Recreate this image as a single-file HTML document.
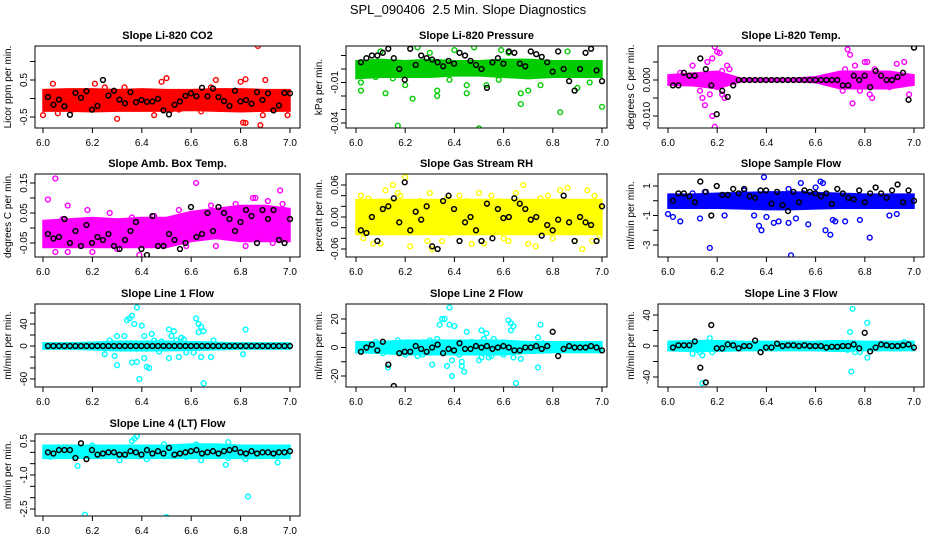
<!DOCTYPE html>
<html><head><meta charset="utf-8"><title>SPL_090406 2.5 Min. Slope Diagnostics</title>
<style>
html,body{margin:0;padding:0;background:#fff;}
svg{display:block;font-family:"Liberation Sans",Arial,sans-serif;}
</style></head>
<body>
<svg id="chart" width="936" height="540" viewBox="0 0 936 540" xmlns="http://www.w3.org/2000/svg">
<text x="468" y="14" text-anchor="middle" font-size="13">SPL_090406&#160; 2.5 Min. Slope Diagnostics</text>
</svg>
<script>
// ---- data ----
const xTicks = [6.0, 6.2, 6.4, 6.6, 6.8, 7.0];
const xTickLabels = ["6.0", "6.2", "6.4", "6.6", "6.8", "7.0"];
const bandX = [6.0, 6.1, 6.2, 6.3, 6.4, 6.5, 6.6, 6.7, 6.8, 6.9, 7.0];

const titles = ["Slope Li-820 CO2","Slope Li-820 Pressure","Slope Li-820 Temp.","Slope Amb. Box Temp.","Slope Gas Stream RH","Slope Sample Flow","Slope Line 1 Flow","Slope Line 2 Flow","Slope Line 3 Flow","Slope Line 4 (LT) Flow"];
const yTitles = ["Licor ppm per min.","kPa per min.","degrees C per min.","degrees C per min.","percent per min.","ml/min per min.","ml/min per min.","ml/min per min.","ml/min per min.","ml/min per min."];
const colors = ["#ff0000","#00cc00","#ff00ff","#ff00ff","#ffff00","#0000ff","#00ffff","#00ffff","#00ffff","#00ffff"];

const yTicks = [[-0.5,0,0.5,1.0],[-0.04,-0.03,-0.02,-0.01,0,0.01],[-0.01,-0.005,0,0.005],[-0.05,0,0.05,0.1,0.15],[-0.06,-0.04,-0.02,0,0.02,0.04,0.06],[-3,-2,-1,0,1],[-60,-40,-20,0,20,40,60],[-20,-10,0,10,20],[-40,-20,0,20,40],[-2.5,-2,-1.5,-1,-0.5,0,0.5]];
const yTickLabels = [["-0.5","","0.5",""],["-0.04","","","-0.01","",""],["-0.010","","0.000",""],["-0.05","","0.05","","0.15"],["-0.06","","","0.00","","","0.06"],["-3","","-1","","1"],["-60","","","0","","40",""],["-20","","0","","20"],["-40","","0","","40"],["-2.5","","","-1.0","","","0.5"]];

const band0Lo=[-0.3,-0.3,-0.32,-0.3,-0.3,-0.3,-0.28,-0.3,-0.32,-0.3,-0.3], band0Hi=[0.2,0.22,0.22,0.2,0.22,0.2,0.2,0.22,0.22,0.2,0.2];
const band1Lo=[-0.006,-0.005,-0.005,-0.005,-0.004,-0.004,-0.005,-0.006,-0.005,-0.005,-0.005], band1Hi=[0.005,0.006,0.005,0.006,0.005,0.005,0.006,0.006,0.005,0.005,0.005];
const band2Lo=[-0.001,-0.0012,-0.002,0,0,0,-0.0003,-0.002,-0.002,-0.002,-0.001], band2Hi=[0.001,0.0015,0.002,0,0,0,0.0005,0.002,0.002,0.002,0.001];
const band3Lo=[-0.06,-0.06,-0.06,-0.06,-0.06,-0.06,-0.04,-0.03,-0.04,-0.04,-0.04], band3Hi=[0.02,0.025,0.03,0.025,0.03,0.03,0.05,0.06,0.07,0.07,0.06];
const band4Lo=[-0.03,-0.03,-0.03,-0.03,-0.03,-0.03,-0.03,-0.03,-0.03,-0.03,-0.03], band4Hi=[0.03,0.03,0.03,0.03,0.03,0.03,0.03,0.03,0.03,0.03,0.03];
const band5Lo=[-0.4,-0.4,-0.4,-0.45,-0.5,-0.5,-0.45,-0.4,-0.4,-0.4,-0.4], band5Hi=[0.35,0.35,0.4,0.45,0.5,0.5,0.45,0.4,0.35,0.35,0.35];
const band6Lo=[-3,-3,-4,-6,-6,-6,-5,-4,-3,-3,-3], band6Hi=[3,3,4,6,6,6,5,4,3,3,3];
const band7Lo=[-2.5,-3,-4,-4,-4,-4,-4,-3,-2.5,-2.5,-2.5], band7Hi=[3,3,4,4,4,4,4,3,3,3,3];
const band8Lo=[-4,-5,-5,-4,-4,-4,-4,-5,-4,-4,-4], band8Hi=[4,5,5,4,4,4,4,5,4,4,4];
const band9Lo=[-0.2,-0.2,-0.2,-0.2,-0.2,-0.2,-0.2,-0.2,-0.2,-0.2,-0.2], band9Hi=[0.25,0.25,0.25,0.25,0.25,0.25,0.3,0.3,0.25,0.25,0.25];

const scat0X=[6.04,6.0,6.1,6.21,6.25,6.3,6.33,6.45,6.48,6.5,6.52,6.68,6.7,6.74,6.8,6.81,6.82,6.82,6.87,6.88,6.9,6.89,6.99,6.64,6.06,6.55,6.12,6.85];
const scat0Y=[0.4,-0.45,-0.1,0.4,0.3,-0.55,0.3,-0.45,0.45,0.55,-0.3,0.3,0.5,0.2,0.45,-0.65,-0.66,0.52,1.42,-0.72,0.5,-0.45,-0.45,-0.35,-0.4,-0.3,-0.3,-0.25];
const scat1X=[6.17,6.5,6.83,7.0,6.67,6.23,6.12,6.02,6.33,6.33,6.45,6.67,6.7,6.45,6.53,6.58,6.9,6.95,6.2,6.1,6.25,6.48,6.59,6.86,6.3,6.02,6.08,6.38,6.62,6.75,6.15,6.4];
const scat1Y=[-0.042,-0.044,-0.032,-0.028,-0.026,-0.022,-0.018,-0.016,-0.02,-0.016,-0.018,-0.018,-0.016,-0.012,-0.012,-0.008,-0.014,-0.01,-0.012,0.013,0.016,0.016,0.014,0.013,0.012,-0.01,-0.006,-0.008,0.012,-0.012,-0.007,0.014];
const scat2X=[6.19,6.2,6.21,6.16,6.18,6.19,6.18,6.15,6.14,6.22,6.23,6.24,6.25,6.1,6.2,6.17,6.22,6.73,6.74,6.75,6.71,6.76,6.8,6.81,6.82,6.83,6.84,6.93,6.96,6.98,6.9,6.78,6.72,6.05,6.13];
const scat2Y=[0.0092,0.0078,0.0075,0.005,0.006,-0.013,-0.01,-0.007,-0.005,-0.004,-0.005,0.004,0.003,0.004,-0.002,-0.004,0.0025,0.0085,0.007,-0.0065,-0.003,0.004,0.005,0.005,-0.004,-0.005,0.003,0.0045,0.005,-0.004,-0.002,-0.003,0.003,0.002,-0.003];
const scat3X=[6.02,6.05,6.1,6.62,6.96,6.05,6.1,6.2,6.3,6.39,6.7,6.82,6.93,6.08,6.18,6.45,6.55,6.68,6.78,6.85,6.91,6.97,6.27,6.36,6.58,6.86,6.74];
const scat3Y=[0.095,0.165,0.075,0.15,0.125,-0.08,-0.08,-0.08,-0.07,-0.09,-0.06,-0.06,-0.05,0.03,0.06,0.04,0.06,0.075,0.08,0.1,0.09,0.08,0.05,0.035,-0.06,0.1,0.06];
const scat4X=[6.02,6.03,6.05,6.07,6.1,6.12,6.15,6.17,6.2,6.18,6.22,6.26,6.3,6.31,6.29,6.35,6.37,6.42,6.45,6.47,6.5,6.52,6.55,6.58,6.6,6.62,6.65,6.68,6.7,6.73,6.75,6.78,6.8,6.83,6.86,6.89,6.92,6.94,6.96,6.97,6.99,6.13,6.38,6.57,6.85];
const scat4Y=[0.04,-0.04,0.035,-0.05,-0.05,0.05,0.06,0.045,0.075,0.04,-0.055,0.03,0.045,-0.06,-0.045,-0.045,0.035,0.04,0.03,-0.05,0.045,-0.05,0.04,0.03,-0.04,-0.045,0.045,0.06,-0.05,-0.055,0.035,0.04,-0.04,0.05,0.055,-0.045,-0.06,0.05,-0.045,0.04,-0.035,0.02,-0.03,0.02,-0.02];
const scat5X=[6.0,6.02,6.05,6.13,6.17,6.1,6.15,6.23,6.35,6.37,6.38,6.4,6.43,6.45,6.5,6.49,6.52,6.54,6.57,6.62,6.63,6.64,6.66,6.67,6.68,6.72,6.78,6.82,6.9,6.93,6.39,6.31,6.49,6.55,6.6];
const scat5Y=[-0.9,-1.1,-1.4,-1.2,-3.2,0.5,0.6,-1.0,-1.0,-1.7,-2.0,-1.1,-1.5,-1.4,-3.7,-1.5,-1.2,1.2,-1.6,1.3,1.2,-2.0,-2.3,-1.3,-1.4,-1.4,-1.3,-2.5,-1.0,-0.9,1.6,0.7,0.8,0.5,0.9];
const scat6X=[6.3,6.29,6.3,6.34,6.35,6.36,6.37,6.38,6.36,6.38,6.39,6.4,6.41,6.42,6.41,6.42,6.43,6.44,6.45,6.47,6.48,6.51,6.51,6.53,6.52,6.54,6.55,6.56,6.57,6.58,6.61,6.62,6.63,6.63,6.64,6.65,6.64,6.65,6.68,6.69,6.82,6.81,6.25,6.27,6.33,6.47,6.38];
const scat6Y=[18,-18,-35,47,50,55,40,70,-30,-29,-60,37,18,-5,-22,-38,-40,22,10,5,8,-22,30,27,18,10,-20,15,12,-12,-12,50,40,25,35,27,-20,-68,-20,10,30,-15,-15,10,18,-10,-5];
const scat7X=[6.08,6.11,6.13,6.17,6.2,6.3,6.31,6.33,6.34,6.35,6.36,6.37,6.38,6.38,6.39,6.39,6.4,6.42,6.43,6.43,6.44,6.45,6.47,6.5,6.51,6.51,6.52,6.53,6.54,6.55,6.56,6.6,6.62,6.63,6.63,6.64,6.64,6.65,6.67,6.74,6.74,6.75,6.76,6.25,6.27];
const scat7Y=[4,-4,-14,5,-5,5,-12,6,16,20,20,-13,16,28,-9,-20,15,-5,-10,-13,-17,11,4,-9,-7,12,6,10,-7,-6,6,-5,19,12,17,15,-7,-25,-8,7,-14,16,3,-6,-5];
const scat8X=[6.1,6.13,6.14,6.14,6.17,6.18,6.12,6.3,6.4,6.73,6.74,6.745,6.75,6.76,6.78,6.81,6.81,6.82,6.65,6.96];
const scat8Y=[-10,-8,-12,-48,10,-8,-5,3,3,-5,18,-33,48,-8,-8,30,-15,3,2,5];
const scat9X=[6.14,6.17,6.31,6.36,6.37,6.38,6.5,6.74,6.75,6.83,6.95,6.82,6.75,6.62,6.64,6.2,6.42,6.58,6.03,6.49];
const scat9Y=[-0.6,-2.75,-0.35,0.5,0.6,0.7,-2.85,-0.55,0.45,-1.95,-0.45,-0.3,-0.25,0.35,-0.35,0.3,-0.3,-0.2,-0.2,0.35];

// black series: values at evenly spaced samples from 6.02 to 7.00
const black0=[0.04,-0.17,-0.03,-0.21,-0.44,0.15,0.02,0.2,-0.3,-0.2,0.5,0.08,0.21,-0.03,-0.13,0.17,-0.1,-0.04,-0.09,-0.08,-0.01,-0.32,-0.43,-0.17,-0.08,0.07,0.14,0.06,0.29,0.06,0.27,0.04,-0.07,-0.2,0.21,-0.08,-0.04,-0.14,0.17,-0.04,0.14,-0.32,-0.19,0.15,0.14];
const black1=[0.005,0.008,0.01,0.01,0.012,0.015,0.008,0.0,-0.008,0.015,0.003,0.01,0.008,0.007,0.005,0.002,0.006,0.004,0.012,0.01,0.006,0.003,0.0,-0.014,0.005,0.008,0.004,0.013,0.012,0.004,0.002,0.013,0.011,0.009,0.005,-0.002,0.013,0.0,-0.009,-0.016,0.0,0.012,0.015,-0.001,-0.009];
const black2=[-0.0015,-0.0015,0.002,0.0012,0.0012,0.006,0.003,-0.0015,-0.0095,-0.003,-0.0047,-0.0015,0,0,0,0,0,0,0,0,0,0,0,0,0,0,0,0,0,0,0,-0.0015,-0.0015,0.0012,0,0.0012,-0.002,0.0025,0.0012,0,0,0.0008,0.002,-0.0055,0.009];
const black3=[-0.02,-0.035,-0.03,0.03,-0.05,-0.01,-0.06,0.01,-0.05,-0.03,-0.04,-0.02,-0.06,-0.07,-0.04,-0.01,0.02,-0.07,-0.09,0.04,-0.06,-0.06,-0.02,-0.04,-0.07,-0.05,0.07,-0.03,-0.02,0.05,-0.01,0.07,0.05,0.03,-0.01,0.02,0.06,0.04,-0.05,0.06,0.03,0.06,-0.04,-0.05,0.03];
const black4=[-0.025,-0.03,0.0,-0.045,0.015,0.02,0.035,-0.01,0.065,-0.025,0.01,-0.005,0.02,-0.055,-0.06,0.03,0.04,0.015,-0.045,-0.01,0.0,-0.025,-0.045,0.025,-0.04,0.015,-0.002,0.0,0.035,0.025,0.015,-0.005,0.0,-0.035,-0.015,-0.025,-0.005,0.04,-0.01,-0.045,0.0,-0.01,-0.015,-0.045,0.02];
const black5=[0.0,0.5,0.5,0.3,-0.1,1.3,0.6,-1.0,1.0,0.4,0.4,0.8,0.5,0.8,0.3,0.2,0.7,0.7,-0.2,0.6,-0.3,-0.7,0.6,-0.1,0.7,0.6,0.5,0.3,0.5,-0.2,0.8,0.5,0.2,0.1,0.7,-0.1,0.5,0.9,0.5,0.2,0.7,1.1,-0.1,0.7,0.0];
const black6=[0,0,0,0,0,0,0,0,0,0,0,0,0,0,0,0,0,0,0,0,0,0,0,0,0,0,0,0,0,0,0,0,0,0,0,0,0,0,0,0,0,0,0,0,0];
const black7=[-3,0,2,-2,4,-12,-27,-4,-3,-3,1,-1,-3,0,2,-4,-1,-2,3,-1,-1,1,0,1,-1,0,1,0,-2,-2,0,0,1,-1,1,11,-6,-1,1,0,0,0,1,0,-2];
const black8=[-2,1,1,1,6,-28,-47,27,-3,-3,2,1,-3,0,0,7,-8,-2,-2,3,0,1,1,0,1,0,0,0,-2,-1,-1,0,0,2,-3,17,-7,-2,2,1,0,0,1,2,-2];
const black9=[0.0,-0.05,0.1,0.1,0.1,-0.25,0.4,-0.3,0.1,-0.1,-0.05,0.0,0.0,-0.1,-0.1,0.05,0.0,-0.1,0.1,-0.05,0.05,-0.05,0.2,-0.1,-0.05,0.0,0.05,0.1,-0.05,0.0,0.05,-0.05,0.05,0.1,0.15,0.0,-0.05,0.05,-0.05,0.0,0.0,-0.05,0.0,0.0,0.05];

const bandLo=[band0Lo,band1Lo,band2Lo,band3Lo,band4Lo,band5Lo,band6Lo,band7Lo,band8Lo,band9Lo];
const bandHi=[band0Hi,band1Hi,band2Hi,band3Hi,band4Hi,band5Hi,band6Hi,band7Hi,band8Hi,band9Hi];
const scatX=[scat0X,scat1X,scat2X,scat3X,scat4X,scat5X,scat6X,scat7X,scat8X,scat9X];
const scatY=[scat0Y,scat1Y,scat2Y,scat3Y,scat4Y,scat5Y,scat6Y,scat7Y,scat8Y,scat9Y];
const blackY=[black0,black1,black2,black3,black4,black5,black6,black7,black8,black9];

// ---- layout (pixels) ----
const cols=[{l:35,r:300,x0:43,x1:290},{l:346,r:607,x0:356,x1:602},{l:658,r:924,x0:668,x1:914}];
const rows=[{t:46,b:128},{t:174,b:257},{t:304,b:387},{t:434,b:516}];
// y calibration: [value a, pixel a, value b, pixel b]
const ycal=[[0.5,80,-0.5,117],[-0.01,82.5,-0.04,123],[0,80,-0.01,116],[0.15,183,-0.05,243],[0.06,185,-0.06,249],[1,186,-3,245],[40,324,-60,379],[20,319,-20,376],[40,315,-40,377],[0.5,441,-2.5,509]];

const NS="http://www.w3.org/2000/svg";
const svg=document.getElementById('chart');
function mk(tag,attrs,parent){const e=document.createElementNS(NS,tag);for(const k in attrs)e.setAttribute(k,attrs[k]);(parent||svg).appendChild(e);return e;}

for(let p=0;p<10;p++){
  const c=cols[p%3], r=rows[Math.floor(p/3)], cal=ycal[p];
  const xs=v=>c.x0+(v-6)*(c.x1-c.x0);
  const ys=v=>cal[1]+(v-cal[0])*(cal[3]-cal[1])/(cal[2]-cal[0]);
  const g=mk('g',{});
  
  
  const cp=mk('clipPath',{id:'clip'+p},g);
  mk('rect',{x:c.l,y:r.t,width:c.r-c.l,height:r.b-r.t},cp);
  const t=mk('text',{x:(c.l+c.r)/2,y:r.t-7,'text-anchor':'middle','font-size':'11','font-weight':'bold'},g);
  t.textContent=titles[p];
  
  
  const yt=mk('text',{x:0,y:0,'text-anchor':'middle','font-size':'10',transform:`translate(${c.l-24},${(r.t+r.b)/2}) rotate(-90)`},g);
  yt.textContent=yTitles[p];
  
  
  const plot=mk('g',{'clip-path':`url(#clip${p})`},g);
  let d='';
  bandX.forEach((x,i)=>{d+=(i?'L':'M')+xs(x).toFixed(1)+','+(ys(bandHi[p][i])-1.5).toFixed(1);});
  for(let i=bandX.length-1;i>=0;i--){d+='L'+xs(bandX[i]).toFixed(1)+','+(ys(bandLo[p][i])+1.5).toFixed(1);}
  const band=mk('path',{d:d+'Z',fill:colors[p],stroke:colors[p],'stroke-width':'1.5'},plot);
  
  
  scatX[p].forEach((x,i)=>{
    const pt=mk('circle',{cx:xs(x),cy:ys(scatY[p][i]),r:2.4,fill:'none',stroke:colors[p],'stroke-width':'1.4'},plot);
    
    
  });
  const n=blackY[p].length;
  blackY[p].forEach((v,i)=>{
    const x=6.02+i*(0.98/(n-1));
    const pt=mk('circle',{cx:xs(x),cy:ys(v),r:2.4,fill:'none',stroke:'#000','stroke-width':'1.5'},plot);
    
    
  });
  const box=mk('rect',{x:c.l,y:r.t,width:c.r-c.l,height:r.b-r.t,fill:'none',stroke:'#000','stroke-width':'1'},g);
  
  
  mk('line',{x1:xs(6),x2:xs(7),y1:r.b,y2:r.b,stroke:'#000'},g);
  xTicks.forEach((v,i)=>{
    mk('line',{x1:xs(v),x2:xs(v),y1:r.b,y2:r.b+5,stroke:'#000'},g);
    const tl=mk('text',{x:xs(v),y:r.b+18,'text-anchor':'middle','font-size':'10'},g);
    tl.textContent=xTickLabels[i];
    
    
  });
  yTicks[p].forEach((v,i)=>{
    const y=ys(v);
    mk('line',{x1:c.l-5,x2:c.l,y1:y,y2:y,stroke:'#000'},g);
    if(yTickLabels[p][i]){
      const tl=mk('text',{x:0,y:0,'text-anchor':'middle','font-size':'10',transform:`translate(${c.l-8},${y}) rotate(-90)`},g);
      tl.textContent=yTickLabels[p][i];
      
      
    }
  });
}
</script>
</body></html>
